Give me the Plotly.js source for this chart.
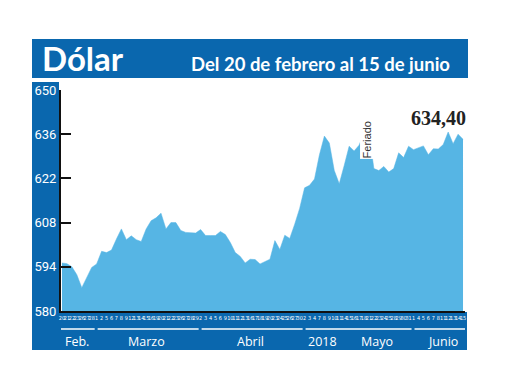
<!DOCTYPE html>
<html>
<head>
<meta charset="utf-8">
<script src="https://cdn.plot.ly/plotly-3.0.1.min.js"></script>
<style>
html,body{margin:0;padding:0;background:#fff;}
#chart{width:520px;height:390px;}
</style>
</head>
<body>
<div id="chart"></div>
<script>
// ---- data ----
const days = [
  20,21,22,23,26,27,28,
  1,2,5,6,7,8,9,12,13,14,15,16,19,20,21,22,23,26,27,28,29,
  2,3,4,5,6,9,10,11,12,13,16,17,18,19,20,23,24,25,26,27,30,
  2,3,4,7,8,9,10,11,14,15,16,17,18,21,22,23,24,25,28,29,30,31,
  1,4,5,6,7,8,11,12,13,14,15
];
const monthOf = [
  'Feb.','Feb.','Feb.','Feb.','Feb.','Feb.','Feb.',
  'Marzo','Marzo','Marzo','Marzo','Marzo','Marzo','Marzo','Marzo','Marzo','Marzo','Marzo','Marzo','Marzo','Marzo','Marzo','Marzo','Marzo','Marzo','Marzo','Marzo','Marzo',
  'Abril','Abril','Abril','Abril','Abril','Abril','Abril','Abril','Abril','Abril','Abril','Abril','Abril','Abril','Abril','Abril','Abril','Abril','Abril','Abril','Abril',
  'Mayo','Mayo','Mayo','Mayo','Mayo','Mayo','Mayo','Mayo','Mayo','Mayo','Mayo','Mayo','Mayo','Mayo','Mayo','Mayo','Mayo','Mayo','Mayo','Mayo','Mayo','Mayo',
  'Junio','Junio','Junio','Junio','Junio','Junio','Junio','Junio','Junio','Junio','Junio'
];
const dolar = [
  595.2,595.0,594.0,591.5,587.4,590.5,593.8,
  594.9,598.9,598.5,599.3,602.8,606.0,602.6,603.8,602.6,602.0,606.0,608.6,609.5,611.0,606.0,608.0,608.0,605.5,604.9,604.8,604.7,
  605.8,603.9,603.9,603.9,605.2,604.2,601.7,598.5,597.3,595.2,596.4,596.3,594.9,595.7,596.4,602.3,599.5,604.0,603.0,607.5,612.5,
  619.0,619.8,621.8,629.5,635.4,633.2,624.5,620.3,626.1,632.2,630.7,632.5,636.4,636.4,625.1,624.5,625.8,624.0,625.1,630.1,628.6,632.2,
  631.1,631.6,632.3,629.5,631.4,631.3,632.7,636.7,633.0,636.0,634.4
];
const monthNames = ['Feb.','Marzo','Abril','Mayo','Junio'];
const yTicks = [580,594,608,622,636,650];
const titleText = 'Dólar';
const subtitleText = 'Del 20 de febrero al 15 de junio';
const lastLabel = '634,40';
const yearLabel = '2018';
const holidayLabel = 'Feriado';
const holidayDay = 21, holidayMonth = 'Mayo';

// ---- build ----
const idx = days.map((d,i)=>i);
const N = idx.length;
const BLUE = '#0a67ae';
const FILL = '#56b5e4';

const shapes = [
  {type:'rect',xref:'paper',yref:'paper',x0:32/520,x1:468/520,y0:(390-78)/390,y1:(390-39)/390,fillcolor:BLUE,line:{width:0},layer:'below'},
  {type:'rect',xref:'paper',yref:'paper',x0:32/520,x1:59/520,y0:(390-350)/390,y1:(390-82)/390,fillcolor:BLUE,line:{width:0},layer:'below'},
  {type:'rect',xref:'paper',yref:'paper',x0:32/520,x1:467/520,y0:(390-350)/390,y1:(390-312)/390,fillcolor:BLUE,line:{width:0},layer:'below'}
];
const annotations = [
  {xref:'paper',yref:'paper',x:40/520,y:(390-58)/390,xanchor:'left',yanchor:'middle',text:'<b>'+titleText+'</b>',showarrow:false,
   font:{family:'Lato, Open Sans, sans-serif',size:33,color:'#fff'}},
  {xref:'paper',yref:'paper',x:452/520,y:(390-64)/390,xanchor:'right',yanchor:'middle',text:'<b>'+subtitleText+'</b>',showarrow:false,
   font:{family:'Lato, Open Sans, sans-serif',size:18.5,color:'#fff'}}
];
monthNames.forEach((m,k)=>{
  const ii = idx.filter(i=>monthOf[i]===m);
  const first = ii[0], last = ii[ii.length-1];
  const x0 = k===0 ? -0.2 : first+0.2;
  const x1 = k===monthNames.length-1 ? N-0.6 : last+0.6;
  shapes.push({type:'line',xref:'x',yref:'paper',x0:x0,x1:x1,y0:(390-329)/390,y1:(390-329)/390,line:{color:'#fff',width:1.5}});
  let cx = (first+last)/2;
  if (m==='Mayo') {
    annotations.push({xref:'x',yref:'paper',x:first+(last-first)*0.17,y:(390-341)/390,text:yearLabel,showarrow:false,
      font:{family:'Open Sans, sans-serif',size:12.5,color:'#fff'},xanchor:'center',yanchor:'middle'});
    cx = first+(last-first)*0.70;
  }
  if (m==='Junio') cx = first+(last-first)*0.6;
  annotations.push({xref:'x',yref:'paper',x:cx,y:(390-341)/390,text:m,showarrow:false,
    font:{family:'Open Sans, sans-serif',size:12.5,color:'#fff'},xanchor:'center',yanchor:'middle'});
});
// last value label
annotations.push({xref:'x',yref:'y',x:N-1,y:dolar[N-1],xanchor:'right',yanchor:'bottom',yshift:8,xshift:5,
  text:'<b>'+lastLabel+'</b>',showarrow:false,font:{family:'Liberation Serif, serif',size:20,color:'#222'}});
// holiday label
const hIdx = idx.find(i=>days[i]===holidayDay && monthOf[i]===holidayMonth);
annotations.push({xref:'x',yref:'y',x:hIdx-0.5,y:dolar[hIdx],yanchor:'middle',xanchor:'center',yshift:-7,
  text:holidayLabel,textangle:-90,showarrow:false,bgcolor:'#fff',borderpad:0,
  font:{family:'Liberation Sans, sans-serif',size:11,color:'#333'}});

const trace = {
  x: idx, y: dolar, type:'scatter', mode:'lines', fill:'tozeroy',
  fillcolor: FILL, line:{color:FILL,width:0.5}, hoverinfo:'skip'
};

const layout = {
  width:520, height:390,
  margin:{l:0,r:0,t:0,b:0},
  paper_bgcolor:'#fff', plot_bgcolor:'#fff',
  showlegend:false,
  xaxis:{
    domain:[61/520,465/520], range:[-0.2,N-0.6],
    tickmode:'array', tickvals:idx, ticktext:days.map(String), tickangle:0,
    tickfont:{family:'Liberation Sans Narrow, DejaVu Sans Condensed, sans-serif',size:5.5,color:'#fff'},
    ticks:'', showgrid:false, zeroline:false, showline:true, linecolor:'#111', linewidth:2,
    fixedrange:true
  },
  yaxis:{
    domain:[(390-311)/390,(390-90)/390], range:[580,650],
    tickmode:'array', tickvals:yTicks, ticktext:yTicks.map(String),
    ticks:'inside', ticklen:10, tickwidth:2, tickcolor:'#111',
    tickfont:{family:'Roboto, sans-serif',size:13,color:'#fff'},
    showgrid:false, zeroline:false, showline:true, linecolor:'#111', linewidth:2,
    fixedrange:true
  },
  shapes: shapes,
  annotations: annotations
};
Plotly.newPlot('chart',[trace],layout,{staticPlot:true,displayModeBar:false});
</script>
</body>
</html>
